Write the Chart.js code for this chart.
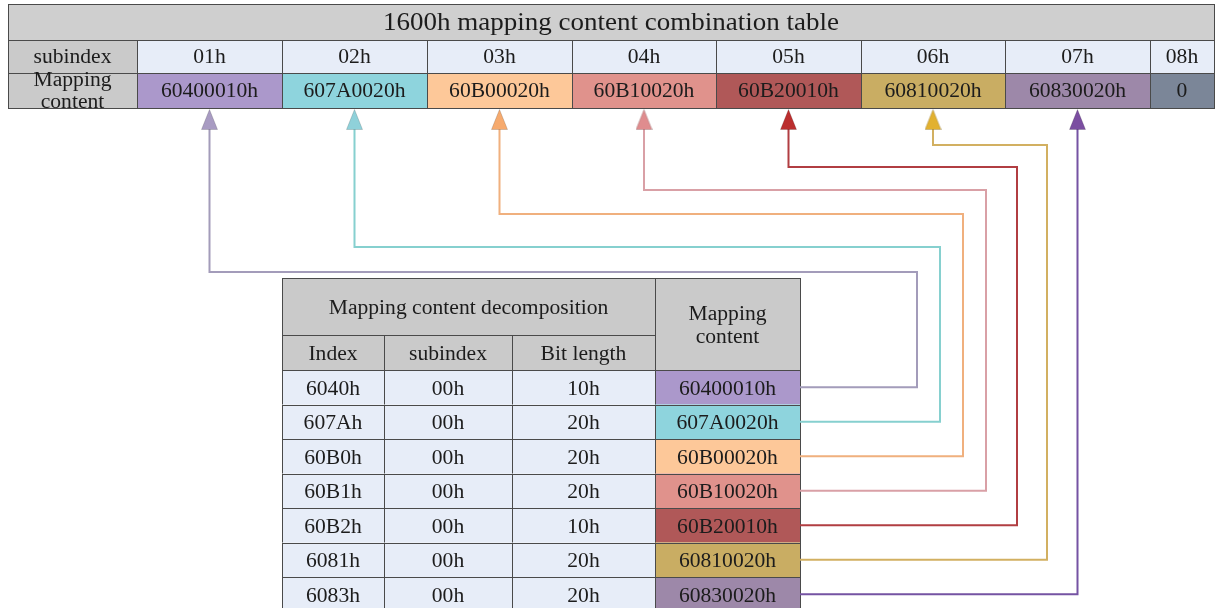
<!DOCTYPE html>
<html>
<head>
<meta charset="utf-8">
<script src="https://cdn.jsdelivr.net/npm/chart.js@4"></script>
<style>
  html, body { margin: 0; padding: 0; background: #ffffff; }
  canvas { display: block; }
</style>
</head>
<body>
<canvas id="mapChart" width="1215" height="608"></canvas>
<script>
// Table data
const subindexLabels = ['01h', '02h', '03h', '04h', '05h', '06h', '07h', '08h'];
const mappingContent = ['60400010h', '607A0020h', '60B00020h', '60B10020h', '60B20010h', '60810020h', '60830020h', '0'];
const objIndex = ['6040h', '607Ah', '60B0h', '60B1h', '60B2h', '6081h', '6083h'];
const objSubindex = ['00h', '00h', '00h', '00h', '00h', '00h', '00h'];
const bitLength = ['10h', '20h', '20h', '20h', '10h', '20h', '20h'];

// Colours
const cellColors = ['#ab98cb', '#8ed4dd', '#fdc899', '#e0928c', '#b05858', '#c9ad63', '#9d88a9', '#7b8698'];
const lineColors = ['#a39cba', '#86d0cf', '#f0b07e', '#d9a0a6', '#b13e42', '#d2b061', '#7553a3'];
const arrowColors = ['#a89bc2', '#8fd1da', '#f6aa6e', '#df8c8e', '#bb2e2e', '#e2b130', '#7b4ea1'];
const headGray = '#cacaca';
const lightCell = '#e7edf8';
const borderCol = '#4a4a4a';
const textCol = '#1c1c1c';
const serif = '"Liberation Serif", "DejaVu Serif", serif';
const stretchX = 1.08;   // the original lettering is a little wider than plain Times
const textDrop = 2;      // 'middle' baseline sits a bit high for this face

// Layout (canvas units)
const topTable = {
    cols: [8, 137, 282, 427, 572, 716, 861, 1005, 1150, 1214],
    rows: [4, 40, 73, 108]
};
const bottomTable = {
    cols: [282, 384, 512, 655, 800],
    rows: [278, 335, 370, 404.5, 439, 473.5, 508, 542.5, 577, 611.5]
};
const arrowY = 119.5;
const lineStartY = 128;
const routeLevelY = [272, 247, 214, 190, 167, 145, null];
const routeJogX = [917, 940, 963, 986, 1017, 1047, 1077];

function centerOf(edges, i) {
    return (edges[i] + edges[i + 1]) / 2;
}

function makeTriangle(color) {
    const c = document.createElement('canvas');
    c.width = 17;
    c.height = 21;
    const g = c.getContext('2d');
    g.fillStyle = color;
    g.strokeStyle = 'rgba(0,0,0,0.15)';
    g.beginPath();
    g.moveTo(8.5, 0.5);
    g.lineTo(16.5, 20.5);
    g.lineTo(0.5, 20.5);
    g.closePath();
    g.fill();
    g.stroke();
    return c;
}

// Connector routes from the decomposition table to the combination table
const connectorSets = objIndex.map((idx, i) => {
    const x0 = centerOf(topTable.cols, i + 1);
    const rowY = centerOf(bottomTable.rows, i + 2);
    let pts;
    if (routeLevelY[i] === null) {
        pts = [{ x: x0, y: lineStartY }, { x: x0, y: rowY }, { x: bottomTable.cols[4], y: rowY }];
    } else {
        pts = [
            { x: x0, y: lineStartY },
            { x: x0, y: routeLevelY[i] },
            { x: routeJogX[i], y: routeLevelY[i] },
            { x: routeJogX[i], y: rowY },
            { x: bottomTable.cols[4], y: rowY }
        ];
    }
    return {
        data: pts,
        showLine: true,
        borderColor: lineColors[i],
        borderWidth: 2,
        borderJoinStyle: 'miter',
        tension: 0,
        pointRadius: 0,
        order: 2
    };
});

const arrowSet = {
    data: objIndex.map((idx, i) => ({ x: centerOf(topTable.cols, i + 1), y: arrowY })),
    pointStyle: arrowColors.map(makeTriangle),
    pointRadius: 10,
    showLine: false,
    order: 1
};

function cell(ctx, xs, ys, x0, x1, y0, y1, fill) {
    const px0 = xs.getPixelForValue(x0), px1 = xs.getPixelForValue(x1);
    const py0 = ys.getPixelForValue(y0), py1 = ys.getPixelForValue(y1);
    ctx.fillStyle = fill;
    ctx.fillRect(px0, py0, px1 - px0, py1 - py0);
    ctx.strokeStyle = borderCol;
    ctx.lineWidth = 1;
    ctx.strokeRect(Math.round(px0) + 0.5, Math.round(py0) + 0.5, Math.round(px1 - px0), Math.round(py1 - py0));
}

function label(ctx, xs, ys, text, x, y, size) {
    ctx.save();
    ctx.translate(xs.getPixelForValue(x), ys.getPixelForValue(y) + textDrop);
    ctx.scale(stretchX, 1);
    ctx.fillStyle = textCol;
    ctx.font = size + 'px ' + serif;
    ctx.textAlign = 'center';
    ctx.textBaseline = 'middle';
    ctx.fillText(text, 0, 0);
    ctx.restore();
}

const tablePlugin = {
    id: 'tables',
    beforeDatasetsDraw(chart) {
        const ctx = chart.ctx;
        const xs = chart.scales.x, ys = chart.scales.y;
        ctx.save();

        // combination table
        const tc = topTable.cols, tr = topTable.rows;
        cell(ctx, xs, ys, tc[0], tc[tc.length - 1], tr[0], tr[1], '#cfcfcf');
        label(ctx, xs, ys, '1600h mapping content combination table', (tc[0] + tc[tc.length - 1]) / 2, 21, 25);
        cell(ctx, xs, ys, tc[0], tc[1], tr[1], tr[2], headGray);
        label(ctx, xs, ys, 'subindex', centerOf(tc, 0), 56, 20);
        cell(ctx, xs, ys, tc[0], tc[1], tr[2], tr[3], headGray);
        label(ctx, xs, ys, 'Mapping', centerOf(tc, 0), 79, 20);
        label(ctx, xs, ys, 'content', centerOf(tc, 0), 101, 20);
        subindexLabels.forEach((s, i) => {
            cell(ctx, xs, ys, tc[i + 1], tc[i + 2], tr[1], tr[2], lightCell);
            label(ctx, xs, ys, s, centerOf(tc, i + 1), 56, 20);
            cell(ctx, xs, ys, tc[i + 1], tc[i + 2], tr[2], tr[3], cellColors[i]);
            label(ctx, xs, ys, mappingContent[i], centerOf(tc, i + 1), 90, 20);
        });

        // decomposition table
        const bc = bottomTable.cols, br = bottomTable.rows;
        cell(ctx, xs, ys, bc[0], bc[3], br[0], br[1], headGray);
        label(ctx, xs, ys, 'Mapping content decomposition', (bc[0] + bc[3]) / 2, 307, 20);
        cell(ctx, xs, ys, bc[3], bc[4], br[0], br[2], headGray);
        label(ctx, xs, ys, 'Mapping', centerOf(bc, 3), 313, 20);
        label(ctx, xs, ys, 'content', centerOf(bc, 3), 336, 20);
        ['Index', 'subindex', 'Bit length'].forEach((h, j) => {
            cell(ctx, xs, ys, bc[j], bc[j + 1], br[1], br[2], headGray);
            label(ctx, xs, ys, h, centerOf(bc, j), centerOf(br, 1), 20);
        });
        objIndex.forEach((idx, i) => {
            const r = i + 2;
            const cy = centerOf(br, r);
            [idx, objSubindex[i], bitLength[i]].forEach((v, j) => {
                cell(ctx, xs, ys, bc[j], bc[j + 1], br[r], br[r + 1], lightCell);
                label(ctx, xs, ys, v, centerOf(bc, j), cy, 20);
            });
            cell(ctx, xs, ys, bc[3], bc[4], br[r], br[r + 1], cellColors[i]);
            label(ctx, xs, ys, mappingContent[i], centerOf(bc, 3), cy, 20);
        });

        ctx.restore();
    }
};

new Chart(document.getElementById('mapChart').getContext('2d'), {
    type: 'scatter',
    data: { datasets: [arrowSet].concat(connectorSets) },
    options: {
        responsive: false,
        animation: false,
        layout: { padding: 0, autoPadding: false },
        scales: {
            x: { type: 'linear', min: 0, max: 1215, display: false },
            y: { type: 'linear', min: 0, max: 608, reverse: true, display: false }
        },
        plugins: {
            legend: { display: false },
            tooltip: { enabled: false }
        }
    },
    plugins: [tablePlugin]
});
</script>
</body>
</html>
